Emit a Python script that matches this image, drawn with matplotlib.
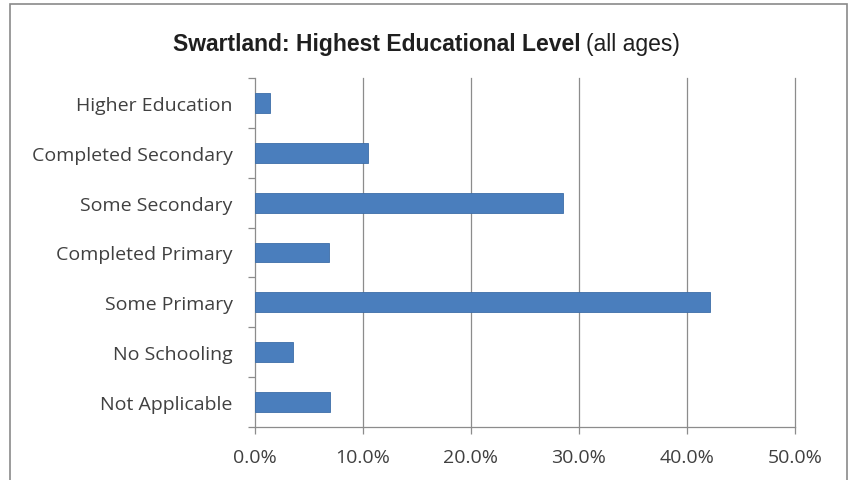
import matplotlib
matplotlib.use("Agg")
import matplotlib.pyplot as plt
from matplotlib.patches import Rectangle
from matplotlib.ticker import FuncFormatter, FixedLocator
import numpy as np

# data (bottom to top)
categories = ["Not Applicable", "No Schooling", "Some Primary", "Completed Primary",
              "Some Secondary", "Completed Secondary", "Higher Education"]
shares = [6.9, 3.5, 42.1, 6.85, 28.5, 10.5, 1.4]
xticks = [0, 10, 20, 30, 40, 50]

bar_color = "#4A7EBD"
grid_color = "#8C8C8C"
text_color = "#404040"

fig = plt.figure(figsize=(8.49, 4.81), dpi=100)
W, H = 849, 481

# outer chart border
fig.patches.append(Rectangle((10 / W, -0.05), 837 / W, 1 - 5 / H + 0.05,
                             transform=fig.transFigure, fill=False,
                             edgecolor="#8A8A8A", linewidth=1.2))

ax = fig.add_axes([255 / W, 1 - 428 / H, (795 - 255) / W, (428 - 79) / H])

y = np.arange(len(categories))
ax.barh(y, shares, height=0.4, color=bar_color, edgecolor="#3C6DA8", linewidth=0.6, zorder=3)

ax.set_xlim(0, 50)
ax.set_ylim(-0.5, len(categories) - 0.5)
ax.set_xticks(xticks)
ax.xaxis.set_major_formatter(FuncFormatter(lambda v, p: "%.1f%%" % v))
ax.set_yticks(y)
ax.set_yticklabels(categories)
ax.yaxis.set_minor_locator(FixedLocator(np.arange(-0.5, len(categories), 1.0)))

# vertical gridlines (drawn unclipped so the 50% line shows)
for v in xticks[1:]:
    ax.axvline(v, color=grid_color, linewidth=0.9, zorder=0, clip_on=False)
for s in ["top", "right"]:
    ax.spines[s].set_visible(False)
for s in ["left", "bottom"]:
    ax.spines[s].set_color(grid_color)
    ax.spines[s].set_linewidth(0.9)

for t in ax.get_yticklabels() + ax.get_xticklabels():
    t.set_fontfamily(["Open Sans", "DejaVu Sans"])
    t.set_fontsize(14)
    t.set_color(text_color)

ax.tick_params(axis="y", which="major", length=0, pad=16)
ax.tick_params(axis="y", which="minor", length=5, color=grid_color, width=0.9)
ax.tick_params(axis="x", which="major", length=5, color=grid_color, width=0.9, pad=10)

# title: bold part + normal part
tx = fig.text(173 / W, 1 - 45 / H, "Swartland: Highest Educational Level",
              fontsize=16.5, fontweight="bold", family=["Liberation Sans"],
              color="#1F1F1F", va="center", ha="left")
fig.canvas.draw()
bb = tx.get_window_extent()
fig.text(bb.x1 / W + 5 / W, 1 - 45 / H, "(all ages)", fontsize=16.5,
         family=["Liberation Sans"], color="#1F1F1F",
         va="center", ha="left")

fig.savefig("out.png", dpi=100)
